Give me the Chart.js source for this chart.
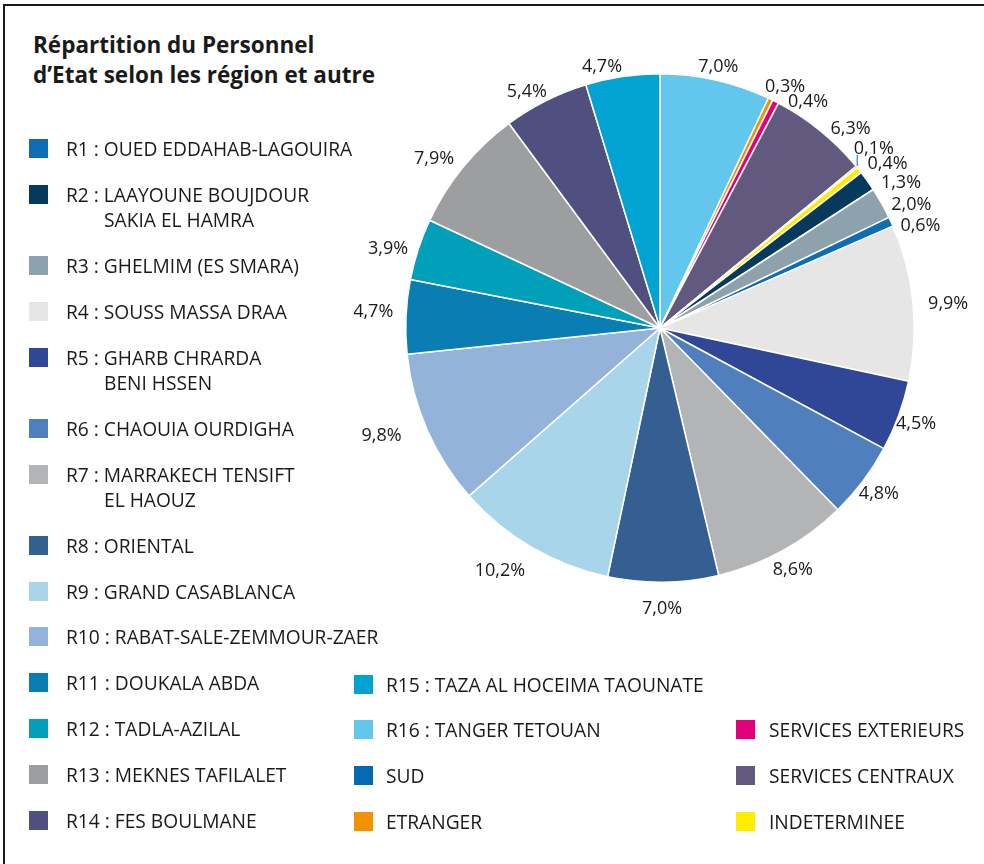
<!DOCTYPE html>
<html>
<head>
<meta charset="utf-8">
<script src="https://cdn.jsdelivr.net/npm/chart.js@4.4.1/dist/chart.umd.min.js"></script>
<style>
  html, body { margin:0; padding:0; background:#fff; }
  body { width:984px; height:864px; position:relative; overflow:hidden; font-family: "Open Sans", Roboto, sans-serif; color:#1a1a1a; }
  #frame { position:absolute; left:3px; top:4px; right:-10px; bottom:-10px; border-top:2px solid #1a1a1a; border-left:2px solid #1a1a1a; }
  #title { position:absolute; left:33px; top:30px; font-weight:700; font-size:22.5px; line-height:30px; letter-spacing:0; white-space:nowrap; }
  #chart { position:absolute; left:0; top:0; }
  .lg { position:absolute; font-size:19.2px; line-height:25.1px; white-space:nowrap; }
  .sw { position:absolute; width:19px; height:19px; }
  .l2 { display:block; margin-left:38px; }
</style>
</head>
<body>
<div id="frame"></div>
<div id="title">Répartition du Personnel<br>d’Etat selon les région et autre</div>
<canvas id="chart" width="984" height="864"></canvas>
<div id="legend"></div>
<script>
// ---- data (legend order) ----
const categories = [
  'R1 : OUED EDDAHAB-LAGOUIRA',
  'R2 : LAAYOUNE BOUJDOUR|SAKIA EL HAMRA',
  'R3 : GHELMIM (ES SMARA)',
  'R4 : SOUSS MASSA DRAA',
  'R5 : GHARB CHRARDA|BENI HSSEN',
  'R6 : CHAOUIA OURDIGHA',
  'R7 : MARRAKECH TENSIFT|EL HAOUZ',
  'R8 : ORIENTAL',
  'R9 : GRAND CASABLANCA',
  'R10 : RABAT-SALE-ZEMMOUR-ZAER',
  'R11 : DOUKALA ABDA',
  'R12 : TADLA-AZILAL',
  'R13 : MEKNES TAFILALET',
  'R14 : FES BOULMANE',
  'R15 : TAZA AL HOCEIMA TAOUNATE',
  'R16 : TANGER TETOUAN',
  'SUD',
  'ETRANGER',
  'SERVICES EXTERIEURS',
  'SERVICES CENTRAUX',
  'INDETERMINEE'
];
const values = [0.6, 1.3, 2.0, 9.9, 4.5, 4.8, 8.6, 7.0, 10.2, 9.8, 4.7, 3.9, 7.9, 5.4, 4.7, 7.0, 0.1, 0.3, 0.4, 6.3, 0.4];
const colors = ['#0f6db5','#063a5c','#8ea2ae','#e6e6e6','#2f4796','#4f80bd','#b3b4b6','#365f91','#a8d5ea','#93b3db',
                '#0a7db2','#00a0ba','#9d9ea0','#4f5080','#00a3d2','#63c6ec','#046ab2','#f39200','#e2007a','#625a7e','#ffed00'];
// order of slices clockwise from 12 o'clock (indices into the arrays above)
const pieOrder = [15, 17, 18, 19, 16, 20, 1, 2, 0, 3, 4, 5, 6, 7, 8, 9, 10, 11, 12, 13, 14];
// legend columns (indices into the arrays above)
const legendColumns = [
  [0,1,2,3,4,5,6,7,8,9,10,11,12,13],
  [14,15,16,17],
  [18,19,20]
];

// ---- label placement tweaks (per slice, pie order) ----
const labelAngleNudge  = [-0.5, 0.8, 5.2, 3.5, -1.7, 1.6, 3.3, 2.3, 2.5, 0.7, 0.8, 0.9, 0.8, 0.3, 1.9, 2.1, 1.0, -1.1, -1.4, -1.8, -3.6];
const labelRadialNudge = [-7, -5, -7, -3, -1, 0, 0, -2, -3, 5, -10, -7, -2, 5, 11, 15, 3, 0, 2, -5, -7];

const pieLabels = pieOrder.map(i => categories[i].replace('|', ' '));
const pieValues = pieOrder.map(i => values[i]);
const pieColors = pieOrder.map(i => colors[i]);
const fmt = v => v.toFixed(1).replace('.', ',') + '%';

// ---- legend (HTML) ----
const legendX = [[29, 66], [354, 386], [736, 769]];
const legendStartY = [148.5, 684, 729.8];
const rowStep = 45.9, extraLine = 25.1;
const legendEl = document.getElementById('legend');
legendColumns.forEach((col, c) => {
  let cy = legendStartY[c];
  col.forEach(idx => {
    const parts = categories[idx].split('|');
    const sw = document.createElement('div');
    sw.className = 'sw';
    sw.style.left = legendX[c][0] + 'px';
    sw.style.top = (cy - 9.5) + 'px';
    sw.style.background = colors[idx];
    legendEl.appendChild(sw);
    const tx = document.createElement('div');
    tx.className = 'lg';
    tx.style.left = legendX[c][1] + 'px';
    tx.style.top = (cy - 12.5) + 'px';
    tx.appendChild(document.createTextNode(parts[0]));
    if (parts[1]) {
      const s = document.createElement('span');
      s.className = 'l2';
      s.textContent = parts[1];
      tx.appendChild(s);
    }
    legendEl.appendChild(tx);
    cy += rowStep + (parts.length - 1) * extraLine;
  });
});

// ---- percentage labels plugin ----
const pctLabels = {
  id: 'pctLabels',
  afterDatasetsDraw(chart) {
    const ctx = chart.ctx;
    const meta = chart.getDatasetMeta(0);
    ctx.save();
    ctx.font = '18px "Open Sans", Roboto, sans-serif';
    ctx.fillStyle = '#1a1a1a';
    ctx.textAlign = 'center';
    ctx.textBaseline = 'middle';
    meta.data.forEach((arc, i) => {
      const p = arc.getProps(['x', 'y', 'startAngle', 'endAngle', 'outerRadius'], true);
      const mid = (p.startAngle + p.endAngle) / 2;
      const a = mid + labelAngleNudge[i] * Math.PI / 180;
      const ux = Math.cos(a), uy = Math.sin(a);
      const txt = fmt(pieValues[i]);
      const w = ctx.measureText(txt).width, h = 22;
      const d = p.outerRadius + 10 + labelRadialNudge[i];
      ctx.fillText(txt, p.x + d * ux + ux * w / 2, p.y + d * uy + uy * h / 2 + 1);
      if (pieValues[i] < 0.2) {
        const ex = p.x + p.outerRadius * Math.cos(mid), ey = p.y + p.outerRadius * Math.sin(mid);
        ctx.strokeStyle = pieColors[i];
        ctx.lineWidth = 1;
        ctx.beginPath();
        ctx.moveTo(ex + 0.5, ey - 1);
        ctx.lineTo(ex + 0.5, ey - 12);
        ctx.stroke();
      }
    });
    ctx.restore();
  }
};

new Chart(document.getElementById('chart'), {
  type: 'pie',
  data: {
    labels: pieLabels,
    datasets: [{
      data: pieValues,
      backgroundColor: pieColors,
      borderColor: '#ffffff',
      borderWidth: 1.5,
      hoverOffset: 0
    }]
  },
  options: {
    responsive: false,
    animation: false,
    devicePixelRatio: 1,
    events: [],
    layout: { padding: { left: 405, right: 69, top: 73, bottom: 281 } },
    plugins: { legend: { display: false }, tooltip: { enabled: false }, title: { display: false } }
  },
  plugins: [pctLabels]
});
</script>
</body>
</html>
